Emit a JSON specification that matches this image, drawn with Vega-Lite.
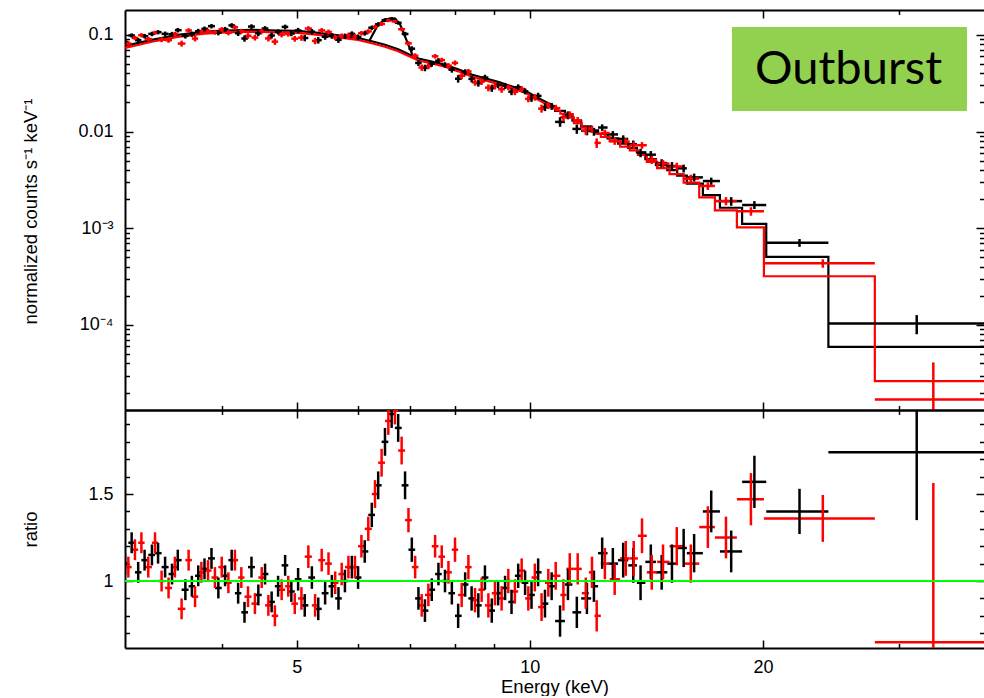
{
"$schema": "https://vega.github.io/schema/vega-lite/v6.json",
"padding": {"left": 21, "top": 9, "right": 0, "bottom": 0},
"spacing": 0,
"bounds": "flush",
"config": {
  "view": {"stroke": null},
  "font": "Liberation Sans",
  "axis": {"labelFont": "Liberation Sans", "labelFontSize": 18, "labelColor": "#000", "titleFont": "Liberation Sans", "titleFontSize": 18.5, "titleFontWeight": "normal", "titleColor": "#000", "tickColor": "#000", "tickWidth": 1.5, "domainColor": "#000", "domainWidth": 2, "grid": false, "labelOverlap": false, "labelFlush": false}
},
"datasets": {
"pts": [
{"s":"A","e":3.00,"el":2.97,"eh":3.03,"c":0.0847,"cl":0.0801,"ch":0.0893,"r":1.10,"rl":1.04,"rh":1.16},
{"s":"A","e":3.06,"el":3.03,"eh":3.09,"c":0.0988,"cl":0.0940,"ch":0.1037,"r":1.22,"rl":1.16,"rh":1.28},
{"s":"A","e":3.12,"el":3.09,"eh":3.15,"c":0.0882,"cl":0.0832,"ch":0.0932,"r":1.05,"rl":0.99,"rh":1.11},
{"s":"A","e":3.18,"el":3.15,"eh":3.215,"c":0.0971,"cl":0.0919,"ch":0.1023,"r":1.12,"rl":1.06,"rh":1.18},
{"s":"A","e":3.25,"el":3.215,"eh":3.28,"c":0.1024,"cl":0.0970,"ch":0.1077,"r":1.15,"rl":1.09,"rh":1.21},
{"s":"A","e":3.31,"el":3.28,"eh":3.345,"c":0.1067,"cl":0.1012,"ch":0.1122,"r":1.16,"rl":1.10,"rh":1.22},
{"s":"A","e":3.38,"el":3.345,"eh":3.415,"c":0.1026,"cl":0.0969,"ch":0.1083,"r":1.08,"rl":1.02,"rh":1.14},
{"s":"A","e":3.45,"el":3.415,"eh":3.48,"c":0.1016,"cl":0.0957,"ch":0.1075,"r":1.04,"rl":0.98,"rh":1.10},
{"s":"A","e":3.51,"el":3.48,"eh":3.55,"c":0.112,"cl":0.106,"ch":0.118,"r":1.12,"rl":1.06,"rh":1.18},
{"s":"A","e":3.59,"el":3.55,"eh":3.625,"c":0.0979,"cl":0.0917,"ch":0.1040,"r":0.95,"rl":0.89,"rh":1.01},
{"s":"A","e":3.66,"el":3.625,"eh":3.695,"c":0.1019,"cl":0.0956,"ch":0.1082,"r":0.97,"rl":0.91,"rh":1.03},
{"s":"A","e":3.73,"el":3.695,"eh":3.765,"c":0.1092,"cl":0.1028,"ch":0.1155,"r":1.03,"rl":0.97,"rh":1.09},
{"s":"A","e":3.80,"el":3.765,"eh":3.84,"c":0.1156,"cl":0.1091,"ch":0.1220,"r":1.07,"rl":1.01,"rh":1.13},
{"s":"A","e":3.88,"el":3.84,"eh":3.92,"c":0.1232,"cl":0.1166,"ch":0.1297,"r":1.13,"rl":1.07,"rh":1.19},
{"s":"A","e":3.96,"el":3.92,"eh":4.00,"c":0.1056,"cl":0.0990,"ch":0.1122,"r":0.96,"rl":0.90,"rh":1.02},
{"s":"A","e":4.04,"el":4.00,"eh":4.08,"c":0.1143,"cl":0.1077,"ch":0.1210,"r":1.03,"rl":0.97,"rh":1.09},
{"s":"A","e":4.12,"el":4.08,"eh":4.16,"c":0.1254,"cl":0.1187,"ch":0.1322,"r":1.12,"rl":1.06,"rh":1.18},
{"s":"A","e":4.20,"el":4.16,"eh":4.24,"c":0.1042,"cl":0.0974,"ch":0.1109,"r":0.93,"rl":0.87,"rh":0.99},
{"s":"A","e":4.28,"el":4.24,"eh":4.325,"c":0.0918,"cl":0.0851,"ch":0.0986,"r":0.82,"rl":0.76,"rh":0.88},
{"s":"A","e":4.37,"el":4.325,"eh":4.415,"c":0.1220,"cl":0.1153,"ch":0.1288,"r":1.08,"rl":1.02,"rh":1.14},
{"s":"A","e":4.46,"el":4.415,"eh":4.505,"c":0.1040,"cl":0.0972,"ch":0.1107,"r":0.92,"rl":0.86,"rh":0.98},
{"s":"A","e":4.55,"el":4.505,"eh":4.595,"c":0.1165,"cl":0.1098,"ch":0.1232,"r":1.04,"rl":0.98,"rh":1.10},
{"s":"A","e":4.64,"el":4.595,"eh":4.685,"c":0.0986,"cl":0.0918,"ch":0.1053,"r":0.88,"rl":0.82,"rh":0.94},
{"s":"A","e":4.73,"el":4.685,"eh":4.78,"c":0.1077,"cl":0.1010,"ch":0.1143,"r":0.97,"rl":0.91,"rh":1.03},
{"s":"A","e":4.83,"el":4.78,"eh":4.875,"c":0.1210,"cl":0.1143,"ch":0.1277,"r":1.09,"rl":1.03,"rh":1.15},
{"s":"A","e":4.92,"el":4.875,"eh":4.97,"c":0.1034,"cl":0.0968,"ch":0.1100,"r":0.94,"rl":0.88,"rh":1.00},
{"s":"A","e":5.02,"el":4.97,"eh":5.07,"c":0.1111,"cl":0.1040,"ch":0.1183,"r":1.01,"rl":0.945,"rh":1.075},
{"s":"A","e":5.12,"el":5.07,"eh":5.175,"c":0.0929,"cl":0.0859,"ch":0.0999,"r":0.86,"rl":0.795,"rh":0.925},
{"s":"A","e":5.23,"el":5.175,"eh":5.28,"c":0.1081,"cl":0.1012,"ch":0.1150,"r":1.02,"rl":0.955,"rh":1.085},
{"s":"A","e":5.33,"el":5.28,"eh":5.385,"c":0.0882,"cl":0.0814,"ch":0.0950,"r":0.84,"rl":0.775,"rh":0.905},
{"s":"A","e":5.44,"el":5.385,"eh":5.495,"c":0.0958,"cl":0.0891,"ch":0.1025,"r":0.93,"rl":0.865,"rh":0.995},
{"s":"A","e":5.55,"el":5.495,"eh":5.605,"c":0.0980,"cl":0.0914,"ch":0.1045,"r":0.97,"rl":0.905,"rh":1.035},
{"s":"A","e":5.66,"el":5.605,"eh":5.715,"c":0.0891,"cl":0.0827,"ch":0.0955,"r":0.90,"rl":0.835,"rh":0.965},
{"s":"A","e":5.77,"el":5.715,"eh":5.83,"c":0.0970,"cl":0.0907,"ch":0.1033,"r":1.00,"rl":0.935,"rh":1.065},
{"s":"A","e":5.89,"el":5.83,"eh":5.945,"c":0.1026,"cl":0.0964,"ch":0.1088,"r":1.08,"rl":1.015,"rh":1.145},
{"s":"A","e":6.00,"el":5.945,"eh":6.06,"c":0.0949,"cl":0.0888,"ch":0.1009,"r":1.02,"rl":0.955,"rh":1.085},
{"s":"A","e":6.12,"el":6.06,"eh":6.185,"c":0.1041,"cl":0.0983,"ch":0.1099,"r":1.17,"rl":1.105,"rh":1.235},
{"s":"A","e":6.25,"el":6.185,"eh":6.31,"c":0.1187,"cl":0.1127,"ch":0.1247,"r":1.38,"rl":1.31,"rh":1.45},
{"s":"A","e":6.37,"el":6.31,"eh":6.435,"c":0.1287,"cl":0.1220,"ch":0.1353,"r":1.55,"rl":1.47,"rh":1.63},
{"s":"A","e":6.50,"el":6.435,"eh":6.565,"c":0.1422,"cl":0.1359,"ch":0.1485,"r":1.80,"rl":1.72,"rh":1.88},
{"s":"A","e":6.63,"el":6.565,"eh":6.695,"c":0.147,"cl":0.141,"ch":0.153,"r":1.96,"rl":1.88,"rh":2.04},
{"s":"A","e":6.76,"el":6.695,"eh":6.83,"c":0.1335,"cl":0.1278,"ch":0.1392,"r":1.88,"rl":1.80,"rh":1.96},
{"s":"A","e":6.90,"el":6.83,"eh":6.97,"c":0.1023,"cl":0.0970,"ch":0.1076,"r":1.55,"rl":1.47,"rh":1.63},
{"s":"A","e":7.04,"el":6.97,"eh":7.11,"c":0.0720,"cl":0.0677,"ch":0.0763,"r":1.18,"rl":1.11,"rh":1.25},
{"s":"A","e":7.18,"el":7.11,"eh":7.25,"c":0.0513,"cl":0.0476,"ch":0.0550,"r":0.90,"rl":0.835,"rh":0.965},
{"s":"A","e":7.32,"el":7.25,"eh":7.395,"c":0.0457,"cl":0.0421,"ch":0.0492,"r":0.83,"rl":0.765,"rh":0.895},
{"s":"A","e":7.47,"el":7.395,"eh":7.545,"c":0.0504,"cl":0.0469,"ch":0.0538,"r":0.95,"rl":0.885,"rh":1.015},
{"s":"A","e":7.62,"el":7.545,"eh":7.695,"c":0.0541,"cl":0.0507,"ch":0.0575,"r":1.04,"rl":0.975,"rh":1.105},
{"s":"A","e":7.77,"el":7.695,"eh":7.85,"c":0.0490,"cl":0.0458,"ch":0.0522,"r":1.00,"rl":0.935,"rh":1.065},
{"s":"A","e":7.93,"el":7.85,"eh":8.005,"c":0.0437,"cl":0.0407,"ch":0.0468,"r":0.93,"rl":0.865,"rh":0.995},
{"s":"A","e":8.08,"el":8.005,"eh":8.165,"c":0.0352,"cl":0.0321,"ch":0.0383,"r":0.80,"rl":0.73,"rh":0.87},
{"s":"A","e":8.25,"el":8.165,"eh":8.33,"c":0.0412,"cl":0.0382,"ch":0.0441,"r":0.98,"rl":0.91,"rh":1.05},
{"s":"A","e":8.41,"el":8.33,"eh":8.495,"c":0.0351,"cl":0.0324,"ch":0.0378,"r":0.90,"rl":0.83,"rh":0.97},
{"s":"A","e":8.58,"el":8.495,"eh":8.665,"c":0.0318,"cl":0.0292,"ch":0.0344,"r":0.86,"rl":0.79,"rh":0.93},
{"s":"A","e":8.75,"el":8.665,"eh":8.84,"c":0.0362,"cl":0.0337,"ch":0.0387,"r":1.02,"rl":0.95,"rh":1.09},
{"s":"A","e":8.93,"el":8.84,"eh":9.015,"c":0.0282,"cl":0.0258,"ch":0.0306,"r":0.83,"rl":0.76,"rh":0.90},
{"s":"A","e":9.10,"el":9.015,"eh":9.195,"c":0.0304,"cl":0.0281,"ch":0.0327,"r":0.93,"rl":0.86,"rh":1.00},
{"s":"A","e":9.29,"el":9.195,"eh":9.38,"c":0.0298,"cl":0.0276,"ch":0.0319,"r":0.96,"rl":0.89,"rh":1.03},
{"s":"A","e":9.47,"el":9.38,"eh":9.565,"c":0.0259,"cl":0.0238,"ch":0.0279,"r":0.88,"rl":0.81,"rh":0.95},
{"s":"A","e":9.66,"el":9.565,"eh":9.76,"c":0.0288,"cl":0.0269,"ch":0.0308,"r":1.03,"rl":0.96,"rh":1.10},
{"s":"A","e":9.86,"el":9.76,"eh":9.955,"c":0.0261,"cl":0.0243,"ch":0.0280,"r":0.99,"rl":0.92,"rh":1.06},
{"s":"A","e":10.05,"el":9.955,"eh":10.15,"c":0.0223,"cl":0.0203,"ch":0.0242,"r":0.92,"rl":0.84,"rh":1.00},
{"s":"A","e":10.25,"el":10.15,"eh":10.355,"c":0.0234,"cl":0.0216,"ch":0.0252,"r":1.05,"rl":0.97,"rh":1.13},
{"s":"A","e":10.46,"el":10.355,"eh":10.565,"c":0.0179,"cl":0.0163,"ch":0.0196,"r":0.87,"rl":0.79,"rh":0.95},
{"s":"A","e":10.67,"el":10.565,"eh":10.78,"c":0.0183,"cl":0.0168,"ch":0.0198,"r":0.97,"rl":0.89,"rh":1.05},
{"s":"A","e":10.94,"el":10.78,"eh":11.1,"c":0.0126,"cl":0.0112,"ch":0.0141,"r":0.77,"rl":0.68,"rh":0.86},
{"s":"A","e":11.2,"el":11.1,"eh":11.35,"c":0.0148,"cl":0.0134,"ch":0.0162,"r":0.98,"rl":0.89,"rh":1.07},
{"s":"A","e":11.5,"el":11.35,"eh":11.65,"c":0.01066,"cl":0.00949,"ch":0.01183,"r":0.82,"rl":0.73,"rh":0.91},
{"s":"A","e":11.85,"el":11.65,"eh":12.0,"c":0.01017,"cl":0.00915,"ch":0.01119,"r":0.90,"rl":0.81,"rh":0.99},
{"s":"A","e":12.1,"el":12.0,"eh":12.25,"c":0.00999,"cl":0.00906,"ch":0.01092,"r":0.97,"rl":0.88,"rh":1.06},
{"s":"A","e":12.4,"el":12.25,"eh":12.6,"c":0.01102,"cl":0.01017,"ch":0.01188,"r":1.16,"rl":1.07,"rh":1.25},
{"s":"A","e":12.8,"el":12.6,"eh":13.0,"c":0.00935,"cl":0.00859,"ch":0.01012,"r":1.10,"rl":1.01,"rh":1.19},
{"s":"A","e":13.2,"el":13.0,"eh":13.4,"c":0.0084,"cl":0.00765,"ch":0.00915,"r":1.12,"rl":1.02,"rh":1.22},
{"s":"A","e":13.6,"el":13.4,"eh":13.75,"c":0.00741,"cl":0.00673,"ch":0.00809,"r":1.09,"rl":0.99,"rh":1.19},
{"s":"A","e":13.9,"el":13.75,"eh":14.1,"c":0.00604,"cl":0.00543,"ch":0.00665,"r":0.99,"rl":0.89,"rh":1.09},
{"s":"A","e":14.33,"el":14.1,"eh":14.55,"c":0.00577,"cl":0.00525,"ch":0.00629,"r":1.11,"rl":1.01,"rh":1.21},
{"s":"A","e":14.8,"el":14.55,"eh":15.05,"c":0.00473,"cl":0.00428,"ch":0.00518,"r":1.05,"rl":0.95,"rh":1.15},
{"s":"A","e":15.26,"el":15.05,"eh":15.5,"c":0.0044,"cl":0.00396,"ch":0.00484,"r":1.10,"rl":0.99,"rh":1.21},
{"s":"A","e":15.8,"el":15.5,"eh":15.95,"c":0.00417,"cl":0.00378,"ch":0.00455,"r":1.19,"rl":1.08,"rh":1.30},
{"s":"A","e":16.3,"el":15.95,"eh":16.73,"c":0.00336,"cl":0.00305,"ch":0.00368,"r":1.16,"rl":1.05,"rh":1.27},
{"s":"A","e":17.15,"el":16.73,"eh":17.6,"c":0.00308,"cl":0.00282,"ch":0.00334,"r":1.40,"rl":1.28,"rh":1.52},
{"s":"A","e":18.2,"el":17.6,"eh":18.8,"c":0.00191,"cl":0.00171,"ch":0.0021,"r":1.17,"rl":1.05,"rh":1.29},
{"s":"A","e":19.5,"el":18.8,"eh":20.2,"c":0.00174,"cl":0.00158,"ch":0.00191,"r":1.57,"rl":1.42,"rh":1.72},
{"s":"A","e":22.3,"el":20.2,"eh":24.3,"c":0.000708,"cl":0.000643,"ch":0.000774,"r":1.40,"rl":1.27,"rh":1.53},
{"s":"A","e":31.6,"el":24.3,"eh":41,"c":0.0001034,"cl":0.0000802,"ch":0.0001265,"r":1.74,"rl":1.35,"rh":2.13},
{"s":"B","e":3.03,"el":3.00,"eh":3.06,"c":0.0814,"cl":0.0769,"ch":0.0860,"r":1.08,"rl":1.02,"rh":1.14},
{"s":"B","e":3.09,"el":3.06,"eh":3.12,"c":0.0930,"cl":0.0883,"ch":0.0977,"r":1.18,"rl":1.12,"rh":1.24},
{"s":"B","e":3.15,"el":3.12,"eh":3.18,"c":0.0994,"cl":0.0945,"ch":0.1043,"r":1.22,"rl":1.16,"rh":1.28},
{"s":"B","e":3.215,"el":3.18,"eh":3.25,"c":0.0906,"cl":0.0856,"ch":0.0956,"r":1.08,"rl":1.02,"rh":1.14},
{"s":"B","e":3.28,"el":3.25,"eh":3.31,"c":0.1054,"cl":0.1002,"ch":0.1106,"r":1.22,"rl":1.16,"rh":1.28},
{"s":"B","e":3.345,"el":3.31,"eh":3.38,"c":0.0893,"cl":0.0839,"ch":0.0947,"r":1.00,"rl":0.94,"rh":1.06},
{"s":"B","e":3.415,"el":3.38,"eh":3.45,"c":0.0883,"cl":0.0828,"ch":0.0938,"r":0.96,"rl":0.90,"rh":1.02},
{"s":"B","e":3.48,"el":3.45,"eh":3.51,"c":0.1020,"cl":0.0963,"ch":0.1076,"r":1.08,"rl":1.02,"rh":1.14},
{"s":"B","e":3.55,"el":3.51,"eh":3.59,"c":0.0814,"cl":0.0756,"ch":0.0872,"r":0.84,"rl":0.78,"rh":0.90},
{"s":"B","e":3.625,"el":3.59,"eh":3.66,"c":0.1112,"cl":0.1053,"ch":0.1172,"r":1.12,"rl":1.06,"rh":1.18},
{"s":"B","e":3.695,"el":3.66,"eh":3.73,"c":0.0917,"cl":0.0857,"ch":0.0978,"r":0.91,"rl":0.85,"rh":0.97},
{"s":"B","e":3.765,"el":3.73,"eh":3.80,"c":0.1073,"cl":0.1012,"ch":0.1134,"r":1.05,"rl":0.99,"rh":1.11},
{"s":"B","e":3.84,"el":3.80,"eh":3.88,"c":0.1098,"cl":0.1036,"ch":0.1160,"r":1.06,"rl":1.00,"rh":1.12},
{"s":"B","e":3.92,"el":3.88,"eh":3.96,"c":0.1067,"cl":0.1004,"ch":0.1130,"r":1.02,"rl":0.96,"rh":1.08},
{"s":"B","e":4.00,"el":3.96,"eh":4.04,"c":0.1139,"cl":0.1076,"ch":0.1203,"r":1.08,"rl":1.02,"rh":1.14},
{"s":"B","e":4.08,"el":4.04,"eh":4.12,"c":0.1054,"cl":0.0990,"ch":0.1118,"r":0.99,"rl":0.93,"rh":1.05},
{"s":"B","e":4.16,"el":4.12,"eh":4.20,"c":0.1198,"cl":0.1134,"ch":0.1263,"r":1.12,"rl":1.06,"rh":1.18},
{"s":"B","e":4.24,"el":4.20,"eh":4.28,"c":0.1091,"cl":0.1027,"ch":0.1156,"r":1.02,"rl":0.96,"rh":1.08},
{"s":"B","e":4.325,"el":4.28,"eh":4.37,"c":0.0978,"cl":0.0914,"ch":0.1043,"r":0.91,"rl":0.85,"rh":0.97},
{"s":"B","e":4.415,"el":4.37,"eh":4.46,"c":0.0939,"cl":0.0874,"ch":0.1003,"r":0.87,"rl":0.81,"rh":0.93},
{"s":"B","e":4.505,"el":4.46,"eh":4.55,"c":0.1097,"cl":0.1032,"ch":0.1161,"r":1.02,"rl":0.96,"rh":1.08},
{"s":"B","e":4.595,"el":4.55,"eh":4.64,"c":0.0920,"cl":0.0856,"ch":0.0984,"r":0.86,"rl":0.80,"rh":0.92},
{"s":"B","e":4.685,"el":4.64,"eh":4.73,"c":0.0852,"cl":0.0788,"ch":0.0916,"r":0.80,"rl":0.74,"rh":0.86},
{"s":"B","e":4.78,"el":4.73,"eh":4.83,"c":0.1007,"cl":0.0943,"ch":0.1071,"r":0.95,"rl":0.89,"rh":1.01},
{"s":"B","e":4.875,"el":4.83,"eh":4.92,"c":0.1023,"cl":0.0960,"ch":0.1087,"r":0.97,"rl":0.91,"rh":1.03},
{"s":"B","e":4.97,"el":4.92,"eh":5.02,"c":0.0914,"cl":0.0851,"ch":0.0977,"r":0.87,"rl":0.81,"rh":0.93},
{"s":"B","e":5.07,"el":5.02,"eh":5.12,"c":0.0937,"cl":0.0869,"ch":0.1005,"r":0.90,"rl":0.835,"rh":0.965},
{"s":"B","e":5.175,"el":5.12,"eh":5.23,"c":0.1165,"cl":0.1099,"ch":0.1232,"r":1.14,"rl":1.075,"rh":1.205},
{"s":"B","e":5.28,"el":5.23,"eh":5.33,"c":0.0867,"cl":0.0801,"ch":0.0932,"r":0.86,"rl":0.795,"rh":0.925},
{"s":"B","e":5.385,"el":5.33,"eh":5.44,"c":0.1112,"cl":0.1048,"ch":0.1177,"r":1.12,"rl":1.055,"rh":1.185},
{"s":"B","e":5.495,"el":5.44,"eh":5.55,"c":0.1071,"cl":0.1008,"ch":0.1135,"r":1.10,"rl":1.035,"rh":1.165},
{"s":"B","e":5.605,"el":5.55,"eh":5.66,"c":0.0945,"cl":0.0883,"ch":0.1008,"r":0.99,"rl":0.925,"rh":1.055},
{"s":"B","e":5.715,"el":5.66,"eh":5.77,"c":0.0973,"cl":0.0913,"ch":0.1034,"r":1.04,"rl":0.975,"rh":1.105},
{"s":"B","e":5.83,"el":5.77,"eh":5.89,"c":0.0990,"cl":0.0931,"ch":0.1050,"r":1.08,"rl":1.015,"rh":1.145},
{"s":"B","e":5.945,"el":5.89,"eh":6.00,"c":0.0970,"cl":0.0911,"ch":0.1028,"r":1.08,"rl":1.015,"rh":1.145},
{"s":"B","e":6.06,"el":6.00,"eh":6.12,"c":0.1043,"cl":0.0986,"ch":0.1099,"r":1.20,"rl":1.135,"rh":1.265},
{"s":"B","e":6.185,"el":6.12,"eh":6.25,"c":0.1087,"cl":0.1028,"ch":0.1145,"r":1.30,"rl":1.23,"rh":1.37},
{"s":"B","e":6.31,"el":6.25,"eh":6.37,"c":0.1211,"cl":0.1146,"ch":0.1275,"r":1.50,"rl":1.42,"rh":1.58},
{"s":"B","e":6.435,"el":6.37,"eh":6.50,"c":0.1300,"cl":0.1238,"ch":0.1362,"r":1.68,"rl":1.60,"rh":1.76},
{"s":"B","e":6.565,"el":6.50,"eh":6.63,"c":0.1411,"cl":0.1352,"ch":0.1470,"r":1.92,"rl":1.84,"rh":2.00},
{"s":"B","e":6.695,"el":6.63,"eh":6.76,"c":0.1380,"cl":0.1324,"ch":0.1436,"r":1.98,"rl":1.90,"rh":2.06},
{"s":"B","e":6.83,"el":6.76,"eh":6.90,"c":0.1145,"cl":0.1092,"ch":0.1197,"r":1.75,"rl":1.67,"rh":1.83},
{"s":"B","e":6.97,"el":6.90,"eh":7.04,"c":0.0818,"cl":0.0776,"ch":0.0861,"r":1.35,"rl":1.28,"rh":1.42},
{"s":"B","e":7.11,"el":7.04,"eh":7.18,"c":0.0608,"cl":0.0571,"ch":0.0645,"r":1.08,"rl":1.015,"rh":1.145},
{"s":"B","e":7.25,"el":7.18,"eh":7.32,"c":0.0460,"cl":0.0425,"ch":0.0495,"r":0.86,"rl":0.795,"rh":0.925},
{"s":"B","e":7.395,"el":7.32,"eh":7.47,"c":0.0475,"cl":0.0441,"ch":0.0508,"r":0.92,"rl":0.855,"rh":0.985},
{"s":"B","e":7.545,"el":7.47,"eh":7.62,"c":0.0601,"cl":0.0569,"ch":0.0634,"r":1.20,"rl":1.135,"rh":1.265},
{"s":"B","e":7.695,"el":7.62,"eh":7.77,"c":0.0549,"cl":0.0518,"ch":0.0581,"r":1.14,"rl":1.075,"rh":1.205},
{"s":"B","e":7.85,"el":7.77,"eh":7.93,"c":0.0481,"cl":0.0451,"ch":0.0511,"r":1.05,"rl":0.985,"rh":1.115},
{"s":"B","e":8.005,"el":7.93,"eh":8.08,"c":0.0513,"cl":0.0483,"ch":0.0544,"r":1.18,"rl":1.11,"rh":1.25},
{"s":"B","e":8.165,"el":8.08,"eh":8.25,"c":0.0378,"cl":0.0349,"ch":0.0407,"r":0.92,"rl":0.85,"rh":0.99},
{"s":"B","e":8.33,"el":8.25,"eh":8.41,"c":0.0418,"cl":0.0391,"ch":0.0445,"r":1.08,"rl":1.01,"rh":1.15},
{"s":"B","e":8.495,"el":8.41,"eh":8.58,"c":0.0323,"cl":0.0298,"ch":0.0348,"r":0.89,"rl":0.82,"rh":0.96},
{"s":"B","e":8.665,"el":8.58,"eh":8.75,"c":0.0329,"cl":0.0304,"ch":0.0353,"r":0.95,"rl":0.88,"rh":1.02},
{"s":"B","e":8.84,"el":8.75,"eh":8.93,"c":0.0285,"cl":0.0261,"ch":0.0308,"r":0.86,"rl":0.79,"rh":0.93},
{"s":"B","e":9.015,"el":8.93,"eh":9.10,"c":0.0296,"cl":0.0273,"ch":0.0318,"r":0.93,"rl":0.86,"rh":1.00},
{"s":"B","e":9.195,"el":9.10,"eh":9.29,"c":0.0274,"cl":0.0252,"ch":0.0295,"r":0.90,"rl":0.83,"rh":0.97},
{"s":"B","e":9.38,"el":9.29,"eh":9.47,"c":0.0288,"cl":0.0268,"ch":0.0308,"r":1.00,"rl":0.93,"rh":1.07},
{"s":"B","e":9.565,"el":9.47,"eh":9.66,"c":0.0258,"cl":0.0238,"ch":0.0277,"r":0.94,"rl":0.87,"rh":1.01},
{"s":"B","e":9.76,"el":9.66,"eh":9.86,"c":0.0276,"cl":0.0257,"ch":0.0294,"r":1.06,"rl":0.99,"rh":1.13},
{"s":"B","e":9.955,"el":9.86,"eh":10.05,"c":0.0218,"cl":0.0201,"ch":0.0235,"r":0.90,"rl":0.83,"rh":0.97},
{"s":"B","e":10.15,"el":10.05,"eh":10.25,"c":0.0226,"cl":0.0209,"ch":0.0244,"r":1.02,"rl":0.94,"rh":1.10},
{"s":"B","e":10.355,"el":10.25,"eh":10.46,"c":0.0173,"cl":0.0157,"ch":0.0190,"r":0.85,"rl":0.77,"rh":0.93},
{"s":"B","e":10.565,"el":10.46,"eh":10.67,"c":0.0186,"cl":0.0171,"ch":0.0201,"r":0.99,"rl":0.91,"rh":1.07},
{"s":"B","e":10.8,"el":10.67,"eh":10.95,"c":0.0175,"cl":0.0162,"ch":0.0189,"r":1.03,"rl":0.95,"rh":1.11},
{"s":"B","e":11.05,"el":10.95,"eh":11.15,"c":0.0141,"cl":0.0127,"ch":0.0155,"r":0.92,"rl":0.83,"rh":1.01},
{"s":"B","e":11.26,"el":11.15,"eh":11.4,"c":0.0150,"cl":0.0137,"ch":0.0162,"r":1.07,"rl":0.98,"rh":1.16},
{"s":"B","e":11.53,"el":11.4,"eh":11.67,"c":0.01305,"cl":0.01196,"ch":0.01415,"r":1.07,"rl":0.98,"rh":1.16},
{"s":"B","e":11.81,"el":11.67,"eh":11.92,"c":0.01023,"cl":0.00924,"ch":0.01122,"r":0.93,"rl":0.84,"rh":1.02},
{"s":"B","e":12.03,"el":11.92,"eh":12.12,"c":0.01061,"cl":0.0097,"ch":0.01151,"r":1.05,"rl":0.96,"rh":1.14},
{"s":"B","e":12.2,"el":12.12,"eh":12.35,"c":0.00764,"cl":0.00678,"ch":0.0085,"r":0.80,"rl":0.71,"rh":0.89},
{"s":"B","e":12.5,"el":12.35,"eh":12.68,"c":0.00967,"cl":0.00888,"ch":0.01046,"r":1.10,"rl":1.01,"rh":1.19},
{"s":"B","e":12.87,"el":12.68,"eh":13.08,"c":0.00801,"cl":0.0073,"ch":0.00872,"r":1.01,"rl":0.92,"rh":1.10},
{"s":"B","e":13.3,"el":13.08,"eh":13.46,"c":0.00788,"cl":0.00718,"ch":0.00857,"r":1.13,"rl":1.03,"rh":1.23},
{"s":"B","e":13.62,"el":13.46,"eh":13.79,"c":0.00723,"cl":0.00659,"ch":0.00787,"r":1.13,"rl":1.03,"rh":1.23},
{"s":"B","e":13.96,"el":13.79,"eh":14.16,"c":0.00722,"cl":0.00665,"ch":0.00779,"r":1.26,"rl":1.16,"rh":1.36},
{"s":"B","e":14.37,"el":14.16,"eh":14.6,"c":0.00511,"cl":0.00463,"ch":0.0056,"r":1.05,"rl":0.95,"rh":1.15},
{"s":"B","e":14.86,"el":14.6,"eh":15.15,"c":0.00466,"cl":0.00424,"ch":0.00508,"r":1.11,"rl":1.01,"rh":1.21},
{"s":"B","e":15.48,"el":15.15,"eh":15.8,"c":0.00436,"cl":0.00396,"ch":0.00476,"r":1.20,"rl":1.09,"rh":1.31},
{"s":"B","e":16.14,"el":15.8,"eh":16.55,"c":0.00326,"cl":0.00293,"ch":0.00358,"r":1.10,"rl":0.99,"rh":1.21},
{"s":"B","e":16.98,"el":16.55,"eh":17.34,"c":0.00274,"cl":0.00249,"ch":0.00299,"r":1.31,"rl":1.19,"rh":1.43},
{"s":"B","e":17.92,"el":17.34,"eh":18.51,"c":0.00191,"cl":0.00173,"ch":0.0021,"r":1.25,"rl":1.13,"rh":1.37},
{"s":"B","e":19.3,"el":18.51,"eh":20.06,"c":0.0015,"cl":0.00135,"ch":0.00165,"r":1.47,"rl":1.32,"rh":1.62},
{"s":"B","e":23.9,"el":20.06,"eh":27.9,"c":0.000434,"cl":0.000391,"ch":0.000477,"r":1.36,"rl":1.225,"rh":1.495},
{"s":"B","e":33.2,"el":27.9,"eh":39.5,"c":0.000017,"cl":0.000001,"ch":0.000041,"r":0.648,"rl":-0.267,"rh":1.563}
],
"mdl": [
{"s":"A","i":1,"e":3.0,"m":0.077},{"s":"A","i":2,"e":3.25,"m":0.089},{"s":"A","i":3,"e":3.51,"m":0.100},{"s":"A","i":4,"e":3.8,"m":0.108},
{"s":"A","i":5,"e":4.04,"m":0.111},{"s":"A","i":6,"e":4.37,"m":0.113},{"s":"A","i":7,"e":4.73,"m":0.111},{"s":"A","i":8,"e":5.02,"m":0.110},
{"s":"A","i":9,"e":5.33,"m":0.105},{"s":"A","i":10,"e":5.66,"m":0.099},{"s":"A","i":11,"e":6.0,"m":0.093},{"s":"A","i":12,"e":6.25,"m":0.086},
{"s":"A","i":13,"e":6.5,"m":0.079},{"s":"A","i":14,"e":6.76,"m":0.071},{"s":"A","i":15,"e":7.04,"m":0.061},{"s":"A","i":16,"e":7.18,"m":0.057},
{"s":"A","i":17,"e":7.47,"m":0.053},{"s":"A","i":18,"e":7.77,"m":0.049},{"s":"A","i":19,"e":8.08,"m":0.044},{"s":"A","i":20,"e":8.41,"m":0.039},
{"s":"A","i":21,"e":8.75,"m":0.0355},{"s":"A","i":22,"e":9.1,"m":0.0327},{"s":"A","i":23,"e":9.47,"m":0.0294},{"s":"A","i":24,"e":9.86,"m":0.0264},
{"s":"A","i":25,"e":10.25,"m":0.0223},{"s":"A","i":26,"e":10.67,"m":0.0189},{"s":"A","i":27,"e":10.78,"m":0.018},
{"s":"A","i":28,"e":10.78,"m":0.0164},{"s":"A","i":29,"e":11.1,"m":0.0164},{"s":"A","i":30,"e":11.1,"m":0.0151},{"s":"A","i":31,"e":11.35,"m":0.0151},
{"s":"A","i":32,"e":11.35,"m":0.013},{"s":"A","i":33,"e":11.65,"m":0.013},{"s":"A","i":34,"e":11.65,"m":0.0113},{"s":"A","i":35,"e":12.0,"m":0.0113},
{"s":"A","i":36,"e":12.0,"m":0.0103},{"s":"A","i":37,"e":12.25,"m":0.0103},{"s":"A","i":38,"e":12.25,"m":0.0095},{"s":"A","i":39,"e":12.6,"m":0.0095},
{"s":"A","i":40,"e":12.6,"m":0.0085},{"s":"A","i":41,"e":13.0,"m":0.0085},{"s":"A","i":42,"e":13.0,"m":0.0075},{"s":"A","i":43,"e":13.4,"m":0.0075},
{"s":"A","i":44,"e":13.4,"m":0.0068},{"s":"A","i":45,"e":13.75,"m":0.0068},{"s":"A","i":46,"e":13.75,"m":0.0061},{"s":"A","i":47,"e":14.1,"m":0.0061},
{"s":"A","i":48,"e":14.1,"m":0.0052},{"s":"A","i":49,"e":14.55,"m":0.0052},{"s":"A","i":50,"e":14.55,"m":0.0045},{"s":"A","i":51,"e":15.05,"m":0.0045},
{"s":"A","i":52,"e":15.05,"m":0.004},{"s":"A","i":53,"e":15.5,"m":0.004},{"s":"A","i":54,"e":15.5,"m":0.0035},{"s":"A","i":55,"e":15.95,"m":0.0035},
{"s":"A","i":56,"e":15.95,"m":0.0029},{"s":"A","i":57,"e":16.73,"m":0.0029},{"s":"A","i":58,"e":16.73,"m":0.0022},{"s":"A","i":59,"e":17.6,"m":0.0022},
{"s":"A","i":60,"e":17.6,"m":0.00163},{"s":"A","i":61,"e":18.8,"m":0.00163},{"s":"A","i":62,"e":18.8,"m":0.00111},{"s":"A","i":63,"e":20.2,"m":0.00111},
{"s":"A","i":64,"e":20.2,"m":0.000506},{"s":"A","i":65,"e":24.3,"m":0.000506},{"s":"A","i":66,"e":24.3,"m":0.0000594},{"s":"A","i":67,"e":41,"m":0.0000594},
{"s":"B","i":1,"e":3.0,"m":0.0735},{"s":"B","i":2,"e":3.25,"m":0.085},{"s":"B","i":3,"e":3.51,"m":0.0955},{"s":"B","i":4,"e":3.8,"m":0.103},
{"s":"B","i":5,"e":4.04,"m":0.106},{"s":"B","i":6,"e":4.37,"m":0.108},{"s":"B","i":7,"e":4.73,"m":0.106},{"s":"B","i":8,"e":5.02,"m":0.105},
{"s":"B","i":9,"e":5.33,"m":0.100},{"s":"B","i":10,"e":5.66,"m":0.0945},{"s":"B","i":11,"e":6.0,"m":0.0888},{"s":"B","i":12,"e":6.25,"m":0.0821},
{"s":"B","i":13,"e":6.5,"m":0.0754},{"s":"B","i":14,"e":6.76,"m":0.0678},{"s":"B","i":15,"e":7.04,"m":0.0583},{"s":"B","i":16,"e":7.18,"m":0.0544},
{"s":"B","i":17,"e":7.47,"m":0.0506},{"s":"B","i":18,"e":7.77,"m":0.0468},{"s":"B","i":19,"e":8.08,"m":0.042},{"s":"B","i":20,"e":8.41,"m":0.0372},
{"s":"B","i":21,"e":8.75,"m":0.0339},{"s":"B","i":22,"e":9.1,"m":0.0312},{"s":"B","i":23,"e":9.47,"m":0.0281},{"s":"B","i":24,"e":9.86,"m":0.0252},
{"s":"B","i":25,"e":10.25,"m":0.0213},{"s":"B","i":26,"e":10.67,"m":0.018},{"s":"B","i":27,"e":10.95,"m":0.0162},
{"s":"B","i":28,"e":10.95,"m":0.0153},{"s":"B","i":29,"e":11.15,"m":0.0153},{"s":"B","i":30,"e":11.15,"m":0.014},{"s":"B","i":31,"e":11.4,"m":0.014},
{"s":"B","i":32,"e":11.4,"m":0.0122},{"s":"B","i":33,"e":11.67,"m":0.0122},{"s":"B","i":34,"e":11.67,"m":0.011},{"s":"B","i":35,"e":11.92,"m":0.011},
{"s":"B","i":36,"e":11.92,"m":0.0101},{"s":"B","i":37,"e":12.12,"m":0.0101},{"s":"B","i":38,"e":12.12,"m":0.00955},{"s":"B","i":39,"e":12.35,"m":0.00955},
{"s":"B","i":40,"e":12.35,"m":0.00879},{"s":"B","i":41,"e":12.68,"m":0.00879},{"s":"B","i":42,"e":12.68,"m":0.00793},{"s":"B","i":43,"e":13.08,"m":0.00793},
{"s":"B","i":44,"e":13.08,"m":0.00697},{"s":"B","i":45,"e":13.46,"m":0.00697},{"s":"B","i":46,"e":13.46,"m":0.0064},{"s":"B","i":47,"e":13.79,"m":0.0064},
{"s":"B","i":48,"e":13.79,"m":0.00573},{"s":"B","i":49,"e":14.16,"m":0.00573},{"s":"B","i":50,"e":14.16,"m":0.00487},{"s":"B","i":51,"e":14.6,"m":0.00487},
{"s":"B","i":52,"e":14.6,"m":0.0042},{"s":"B","i":53,"e":15.15,"m":0.0042},{"s":"B","i":54,"e":15.15,"m":0.00363},{"s":"B","i":55,"e":15.8,"m":0.00363},
{"s":"B","i":56,"e":15.8,"m":0.00296},{"s":"B","i":57,"e":16.55,"m":0.00296},{"s":"B","i":58,"e":16.55,"m":0.00209},{"s":"B","i":59,"e":17.34,"m":0.00209},
{"s":"B","i":60,"e":17.34,"m":0.00153},{"s":"B","i":61,"e":18.51,"m":0.00153},{"s":"B","i":62,"e":18.51,"m":0.00102},{"s":"B","i":63,"e":20.06,"m":0.00102},
{"s":"B","i":64,"e":20.06,"m":0.000319},{"s":"B","i":65,"e":27.9,"m":0.000319},{"s":"B","i":66,"e":27.9,"m":0.0000262},{"s":"B","i":67,"e":41,"m":0.0000262},
{"s":"C","i":1,"e":6.2,"m":0.086},{"s":"C","i":2,"e":6.36,"m":0.125},{"s":"C","i":3,"e":6.5,"m":0.145},{"s":"C","i":4,"e":6.7,"m":0.147},{"s":"C","i":5,"e":6.8,"m":0.128},{"s":"C","i":6,"e":7.06,"m":0.061}
]
},
"vconcat": [
{
  "width": 859, "height": 400,
  "layer": [
    {
      "data": {"name": "mdl"},
      "mark": {"type": "line", "strokeWidth": 2.2, "clip": true},
      "encoding": {
        "x": {"field": "e", "type": "quantitative", "scale": {"type": "log", "domain": [3, 38.6], "nice": false}, "axis": null},
        "y": {"field": "m", "type": "quantitative", "scale": {"type": "log", "domain": [0.0000132, 0.181], "nice": false}, "axis": null},
        "color": {"field": "s", "type": "nominal", "scale": {"domain": ["A", "B", "C"], "range": ["#000000", "#ff0000", "#000000"]}, "legend": null},
        "order": {"field": "i", "type": "quantitative"}
      }
    },
    {
      "data": {"name": "pts"},
      "mark": {"type": "rule", "strokeWidth": 2.5, "clip": true},
      "encoding": {
        "x": {"field": "el", "type": "quantitative", "scale": {"type": "log", "domain": [3, 38.6], "nice": false},
              "axis": {"orient": "bottom", "values": [4,5,6,7,8,9,10,20,30], "labels": false, "title": null, "domain": true,
                       "tickSize": {"condition": {"test": "datum.value==5||datum.value==10||datum.value==20", "value": -8}, "value": -4.5}}},
        "x2": {"field": "eh"},
        "y": {"field": "c", "type": "quantitative", "scale": {"type": "log", "domain": [0.0000132, 0.181], "nice": false},
              "axis": {"orient": "left", "values": [0.00002,0.00003,0.00004,0.00005,0.00006,0.00007,0.00008,0.00009,0.0001,0.0002,0.0003,0.0004,0.0005,0.0006,0.0007,0.0008,0.0009,0.001,0.002,0.003,0.004,0.005,0.006,0.007,0.008,0.009,0.01,0.02,0.03,0.04,0.05,0.06,0.07,0.08,0.09,0.1],
                       "labelExpr": "datum.value==0.1?'0.1':datum.value==0.01?'0.01':datum.value==0.001?'10⁻³':datum.value==0.0001?'10⁻⁴':''",
                       "labelPadding": 20, "domain": true,
                       "tickSize": {"condition": {"test": "datum.value==0.1||datum.value==0.01||datum.value==0.001||datum.value==0.0001", "value": -8}, "value": -4.5},
                       "title": "normalized counts s⁻¹ keV⁻¹", "titleX": -95, "titleY": 201, "titleBaseline": "middle"}},
        "color": {"field": "s", "type": "nominal", "scale": {"domain": ["A", "B", "C"], "range": ["#000000", "#ff0000", "#000000"]}, "legend": null}
      }
    },
    {
      "data": {"name": "pts"},
      "mark": {"type": "rule", "strokeWidth": 2.5, "clip": true},
      "encoding": {
        "x": {"field": "e", "type": "quantitative", "scale": {"type": "log", "domain": [3, 38.6], "nice": false},
              "axis": {"orient": "top", "values": [4,5,6,7,8,9,10,20,30], "labels": false, "title": null, "domain": true,
                       "tickSize": {"condition": {"test": "datum.value==5||datum.value==10||datum.value==20", "value": -8}, "value": -4.5}}},
        "y": {"field": "cl", "type": "quantitative", "scale": {"type": "log", "domain": [0.0000132, 0.181], "nice": false},
              "axis": {"orient": "right", "values": [0.00002,0.00003,0.00004,0.00005,0.00006,0.00007,0.00008,0.00009,0.0001,0.0002,0.0003,0.0004,0.0005,0.0006,0.0007,0.0008,0.0009,0.001,0.002,0.003,0.004,0.005,0.006,0.007,0.008,0.009,0.01,0.02,0.03,0.04,0.05,0.06,0.07,0.08,0.09,0.1],
                       "labels": false, "title": null, "domain": false,
                       "tickSize": {"condition": {"test": "datum.value==0.1||datum.value==0.01||datum.value==0.001||datum.value==0.0001", "value": -8}, "value": -4.5}}},
        "y2": {"field": "ch"},
        "color": {"field": "s", "type": "nominal", "scale": {"domain": ["A", "B", "C"], "range": ["#000000", "#ff0000", "#000000"]}, "legend": null}
      }
    },
    {
      "data": {"values": [{}]},
      "mark": {"type": "rect", "color": "#92D050"},
      "encoding": {
        "x": {"datum": 18.24, "type": "quantitative", "axis": null},
        "x2": {"datum": 36.7},
        "y": {"datum": 0.121, "type": "quantitative", "axis": null},
        "y2": {"datum": 0.01637}
      }
    },
    {
      "data": {"values": [{}]},
      "mark": {"type": "text", "text": "Outburst", "font": "Lato", "fontSize": 47, "color": "#000000", "align": "center", "baseline": "middle"},
      "encoding": {
        "x": {"datum": 25.8, "type": "quantitative", "axis": null},
        "y": {"datum": 0.0435, "type": "quantitative", "axis": null}
      }
    }
  ],
  "resolve": {"axis": {"x": "independent", "y": "independent"}}
},
{
  "width": 859, "height": 238,
  "layer": [
    {
      "data": {"name": "pts"},
      "mark": {"type": "rule", "strokeWidth": 2.5, "clip": true},
      "encoding": {
        "x": {"field": "el", "type": "quantitative", "scale": {"type": "log", "domain": [3, 38.6], "nice": false},
              "axis": {"orient": "bottom", "values": [4,5,6,7,8,9,10,20,30],
                       "labelExpr": "datum.value==5?'5':datum.value==10?'10':datum.value==20?'20':''",
                       "labelPadding": 18, "domain": true,
                       "tickSize": {"condition": {"test": "datum.value==5||datum.value==10||datum.value==20", "value": -8}, "value": -4.5},
                       "title": "Energy (keV)", "titleY": 38, "titleBaseline": "middle"}},
        "x2": {"field": "eh"},
        "y": {"field": "r", "type": "quantitative", "scale": {"domain": [0.615, 1.983], "nice": false, "zero": false},
              "axis": {"orient": "left", "values": [0.7,0.8,0.9,1,1.1,1.2,1.3,1.4,1.5,1.6,1.7,1.8,1.9],
                       "labelExpr": "datum.value==1?'1':datum.value==1.5?'1.5':''",
                       "labelPadding": 20, "domain": true,
                       "tickSize": {"condition": {"test": "datum.value==1||datum.value==1.5", "value": -8}, "value": -4.5},
                       "title": "ratio", "titleX": -95, "titleY": 119, "titleBaseline": "middle"}},
        "color": {"field": "s", "type": "nominal", "scale": {"domain": ["A", "B", "C"], "range": ["#000000", "#ff0000", "#000000"]}, "legend": null}
      }
    },
    {
      "data": {"name": "pts"},
      "mark": {"type": "rule", "strokeWidth": 2.5, "clip": true},
      "encoding": {
        "x": {"field": "e", "type": "quantitative", "scale": {"type": "log", "domain": [3, 38.6], "nice": false},
              "axis": {"orient": "top", "values": [4,5,6,7,8,9,10,20,30], "labels": false, "title": null, "domain": true,
                       "tickSize": {"condition": {"test": "datum.value==5||datum.value==10||datum.value==20", "value": -8}, "value": -4.5}}},
        "y": {"field": "rl", "type": "quantitative", "scale": {"domain": [0.615, 1.983], "nice": false, "zero": false},
              "axis": {"orient": "right", "values": [0.7,0.8,0.9,1,1.1,1.2,1.3,1.4,1.5,1.6,1.7,1.8,1.9], "labels": false, "title": null, "domain": false,
                       "tickSize": {"condition": {"test": "datum.value==1||datum.value==1.5", "value": -8}, "value": -4.5}}},
        "y2": {"field": "rh"},
        "color": {"field": "s", "type": "nominal", "scale": {"domain": ["A", "B", "C"], "range": ["#000000", "#ff0000", "#000000"]}, "legend": null}
      }
    },
    {
      "data": {"values": [{}]},
      "mark": {"type": "rule", "color": "#00ff00", "strokeWidth": 2},
      "encoding": {
        "y": {"datum": 1, "type": "quantitative", "axis": null}
      }
    }
  ],
  "resolve": {"axis": {"x": "independent", "y": "independent"}}
}
]
}
